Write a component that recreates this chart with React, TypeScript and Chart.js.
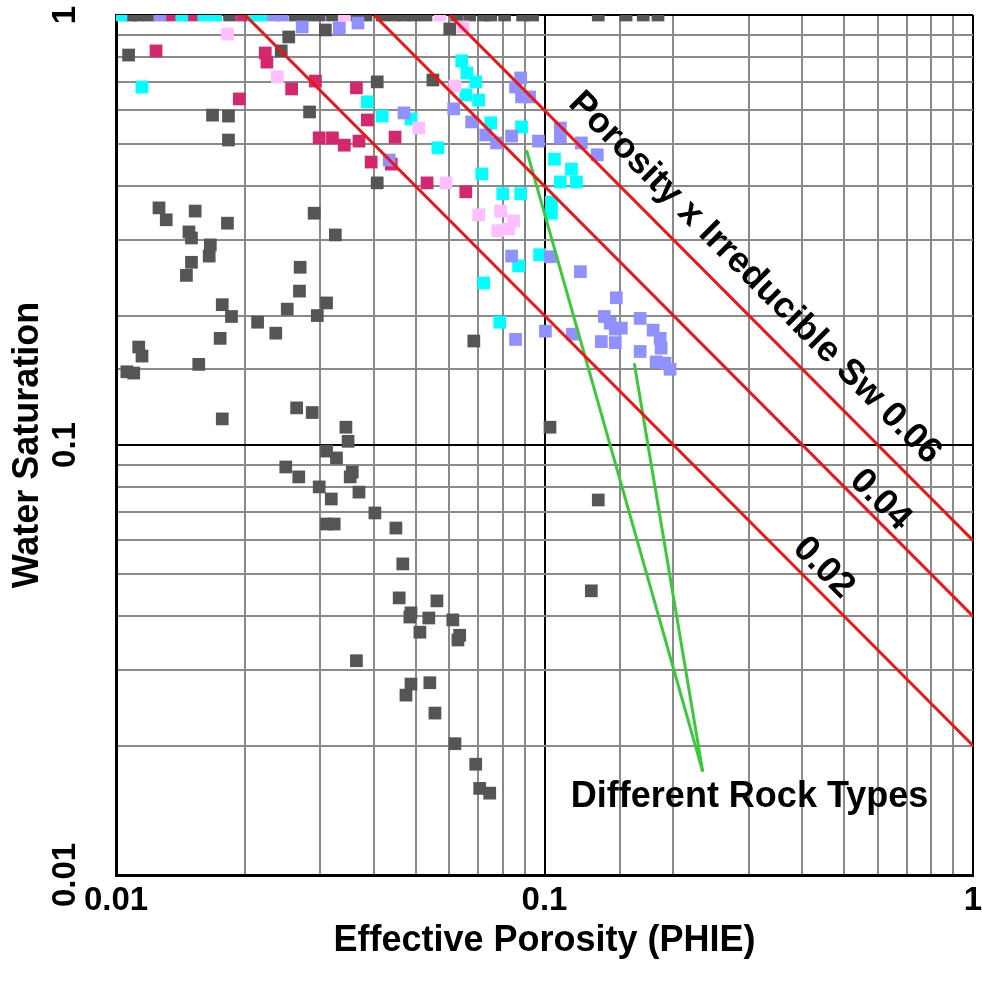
import React, { useEffect, useRef } from "react";
import { Chart, registerables } from "chart.js";

Chart.register(...registerables);

// ---- Data ----
const grayX = [
  0.0107, 0.0168, 0.0183, 0.0183, 0.0253, 0.0243, 0.0308, 0.0283, 0.0126, 0.0131,
  0.0153, 0.0148, 0.0150, 0.0182, 0.0290, 0.0325, 0.0166, 0.0165, 0.0150, 0.0146,
  0.0269, 0.0268, 0.0177, 0.0186, 0.0251, 0.0310, 0.0295, 0.0214, 0.0236, 0.0175,
  0.0113, 0.0115, 0.0156, 0.0106, 0.0110, 0.0264, 0.0287, 0.0177, 0.0344, 0.0348,
  0.0310, 0.0327, 0.0249, 0.0267, 0.0356, 0.0352, 0.0298, 0.0318, 0.0369, 0.0402,
  0.0310, 0.0323, 0.0450, 0.0467, 0.0458, 0.0561, 0.0488, 0.0485, 0.0537, 0.0611,
  0.0512, 0.0634, 0.0628, 0.0364, 0.0488, 0.0475, 0.0540, 0.0555, 0.0618, 0.0691,
  0.0706, 0.0745, 0.103, 0.1335, 0.1286, 0.0407, 0.0549, 0.0407, 0.0684, 0.0601,
  0.01084, 0.01125, 0.01193, 0.01841, 0.02622, 0.02796, 0.0298, 0.0320, 0.0365, 0.0383,
  0.0418, 0.0446, 0.0470, 0.0496, 0.0529, 0.0624, 0.0669, 0.0721, 0.0749, 0.0807,
  0.0889, 0.0938, 0.1335, 0.155, 0.170, 0.184,
];
const grayY = [
  0.807, 0.585, 0.582, 0.512, 0.889, 0.825, 0.923, 0.595, 0.356, 0.334,
  0.350, 0.313, 0.303, 0.328, 0.346, 0.308, 0.292, 0.275, 0.266, 0.248,
  0.259, 0.228, 0.212, 0.199, 0.207, 0.214, 0.200, 0.193, 0.182, 0.177,
  0.169, 0.161, 0.154, 0.148, 0.147, 0.122, 0.119, 0.115, 0.110, 0.102,
  0.0968, 0.0933, 0.0889, 0.0843, 0.0865, 0.0843, 0.0799, 0.0749, 0.0777, 0.0695,
  0.0655, 0.0655, 0.0641, 0.0529, 0.0441, 0.0434, 0.0407, 0.0398, 0.0396, 0.0392,
  0.0367, 0.0361, 0.0352, 0.0315, 0.0278, 0.0262, 0.0280, 0.0238, 0.0202, 0.0181,
  0.0159, 0.0155, 0.110, 0.0745, 0.0458, 0.699, 0.706, 0.407, 0.1745, 0.928,
  1, 1, 1, 1, 1, 1, 1, 1, 1, 1,
  1, 1, 1, 1, 1, 1, 1, 1, 1, 1,
  1, 1, 1, 1, 1, 1,
];

const magentaX = [
  0.0124, 0.0223, 0.0225, 0.0194, 0.0257, 0.0292, 0.0298, 0.0320, 0.0341, 0.0369,
  0.0364, 0.0386, 0.0448, 0.0394, 0.0439, 0.0532, 0.0655, 0.01342, 0.01502, 0.01974,
];
const magentaY = [
  0.825, 0.816, 0.777, 0.638, 0.673, 0.702, 0.518, 0.518, 0.498, 0.509,
  0.677, 0.570, 0.520, 0.455, 0.450, 0.407, 0.388, 1, 1, 1,
];

const cyanX = [
  0.0115, 0.0641, 0.0659, 0.0691, 0.0655, 0.0702, 0.0386, 0.0418, 0.0488, 0.0749,
  0.0884, 0.0564, 0.0714, 0.0799, 0.0880, 0.0870, 0.0974, 0.0721, 0.0786, 0.1055,
  0.1156, 0.1089, 0.1187, 0.1038, 0.1038, 0.01027, 0.01424, 0.01602, 0.01708, 0.02094,
  0.02185,
];
const cyanY = [
  0.680, 0.782, 0.733, 0.699, 0.652, 0.634, 0.628, 0.582, 0.573, 0.561,
  0.549, 0.491, 0.427, 0.384, 0.384, 0.261, 0.277, 0.238, 0.193, 0.462,
  0.438, 0.409, 0.409, 0.367, 0.346, 1, 1, 1, 1, 1,
  1,
];

const purpleX = [
  0.0272, 0.0332, 0.0367, 0.0470, 0.0614, 0.0676, 0.0729, 0.0773, 0.0838, 0.0968,
  0.0880, 0.0856, 0.0884, 0.0923, 0.0434, 0.1089, 0.1089, 0.1219, 0.1328, 0.0838,
  0.1032, 0.1213, 0.1471, 0.0856, 0.1005, 0.1162, 0.1357, 0.1379, 0.1424, 0.1463,
  0.1511, 0.1463, 0.1672, 0.1672, 0.1793, 0.1862, 0.1871, 0.1822, 0.1911, 0.1963,
  0.01266, 0.02331, 0.02445,
];
const purpleY = [
  0.938, 0.933, 0.958, 0.592, 0.605, 0.564, 0.526, 0.504, 0.523, 0.509,
  0.714, 0.680, 0.645, 0.645, 0.460, 0.546, 0.520, 0.504, 0.473, 0.275,
  0.274, 0.253, 0.220, 0.176, 0.184, 0.181, 0.174, 0.199, 0.192, 0.186,
  0.187, 0.173, 0.197, 0.165, 0.185, 0.177, 0.168, 0.156, 0.155, 0.150,
  1, 1, 1,
];

const pinkX = [0.0182, 0.0238, 0.0509, 0.0589, 0.0618, 0.0645, 0.0702, 0.0790, 0.0847, 0.0778, 0.0825, 0.0341, 0.0570];
const pinkY = [0.903, 0.718, 0.546, 0.407, 0.684, 0.938, 0.343, 0.350, 0.332, 0.315, 0.318, 1, 1];

// Iso-lines Porosity x Irreducible Sw = 0.02, 0.04, 0.06 (end points)
const iso002X = [0.02, 1];
const iso002Y = [1, 0.02];
const iso004X = [0.04, 1];
const iso004Y = [1, 0.04];
const iso006X = [0.06, 1];
const iso006Y = [1, 0.06];

// Green "rock type" pointers
const rockAX = [0.0908, 0.234];
const rockAY = [0.485, 0.0174];
const rockBX = [0.162, 0.234];
const rockBY = [0.155, 0.0174];

const xTickLabels = ["0.01", "0.1", "1"];
const yTickLabels = ["0.01", "0.1", "1"];

const FONT = "'Liberation Sans', Arial, Helvetica, sans-serif";

const zip = (xs: number[], ys: number[]) => xs.map((x, i) => ({ x, y: ys[i] }));

const isDecade = (v: number) => Math.abs(Math.log10(v) - Math.round(Math.log10(v))) < 1e-6;

const decadeLabel = (v: number, labels: string[]) => {
  if (!isDecade(v)) return "";
  const e = Math.round(Math.log10(v));
  return labels[e + 2] ?? "";
};

const annotationsPlugin = {
  id: "porosityAnnotations",
  afterDatasetsDraw(chart: any) {
    const { ctx, scales } = chart;
    const xs = scales.x;
    const ys = scales.y;
    const items = [
      { text: "Porosity x Irreducible Sw 0.06", x: 0.3095, y: 0.2445, angle: 45 },
      { text: "0.04", x: 0.6076, y: 0.0745, angle: 45 },
      { text: "0.02", x: 0.448, y: 0.0518, angle: 45 },
      { text: "Different Rock Types", x: 0.301, y: 0.0152, angle: 0 },
    ];
    ctx.save();
    for (const it of items) {
      const px = xs.getPixelForValue(it.x);
      const py = ys.getPixelForValue(it.y);
      ctx.save();
      ctx.translate(px, py);
      ctx.rotate((it.angle * Math.PI) / 180);
      ctx.font = `bold 36px ${FONT}`;
      ctx.fillStyle = "#000";
      ctx.textAlign = "center";
      ctx.textBaseline = "middle";
      ctx.fillText(it.text, 0, 0);
      ctx.restore();
    }
    ctx.restore();
  },
};

export default function App() {
  const ref = useRef<HTMLCanvasElement | null>(null);

  useEffect(() => {
    if (!ref.current) return;
    const pointDs = (label: string, xs: number[], ys: number[], color: string, order: number) => ({
      type: "scatter" as const,
      label,
      data: zip(xs, ys),
      backgroundColor: color,
      borderColor: color,
      borderWidth: 0,
      pointStyle: "rect",
      pointRadius: 9,
      pointHoverRadius: 9,
      showLine: false,
      clip: 0,
      order,
    });
    const lineDs = (label: string, xs: number[], ys: number[], color: string) => ({
      type: "line" as const,
      label,
      data: zip(xs, ys),
      borderColor: color,
      backgroundColor: color,
      borderWidth: 3,
      pointRadius: 0,
      pointHoverRadius: 0,
      fill: false,
      tension: 0,
      clip: 0,
      order: 0,
    });

    const chart = new Chart(ref.current, {
      type: "scatter",
      data: {
        datasets: [
          lineDs("0.02", iso002X, iso002Y, "#f01414"),
          lineDs("0.04", iso004X, iso004Y, "#f01414"),
          lineDs("0.06", iso006X, iso006Y, "#f01414"),
          lineDs("Rock A", rockAX, rockAY, "#3cc83c"),
          lineDs("Rock B", rockBX, rockBY, "#3cc83c"),
          pointDs("Gray", grayX, grayY, "#555555", 5),
          pointDs("Magenta", magentaX, magentaY, "#d4286e", 4),
          pointDs("Cyan", cyanX, cyanY, "#00ffff", 3),
          pointDs("Purple", purpleX, purpleY, "#9090ff", 2),
          pointDs("Pink", pinkX, pinkY, "#ffbfff", 1),
        ] as any,
      },
      options: {
        responsive: false,
        devicePixelRatio: 1,
        animation: false,
        events: [],
        layout: { padding: { top: 15, right: 5, left: 0, bottom: 0 } },
        plugins: {
          legend: { display: false },
          tooltip: { enabled: false },
        },
        scales: {
          x: {
            type: "logarithmic",
            position: "bottom",
            min: 0.01,
            max: 1,
            border: { display: true, color: "#000", width: 3 },
            grid: {
              color: (c: any) => (c.tick && isDecade(c.tick.value) ? "#000" : "#8a8a8a"),
              lineWidth: 2,
              drawTicks: false,
            },
            ticks: {
              autoSkip: false,
              maxRotation: 0,
              minRotation: 0,
              padding: 6,
              color: "#000",
              font: { family: FONT, size: 33, weight: "bold" },
              callback: (v: any) => decadeLabel(Number(v), xTickLabels),
            },
            title: {
              display: true,
              text: "Effective Porosity (PHIE)",
              color: "#000",
              font: { family: FONT, size: 36, weight: "bold" },
              padding: { top: 0, bottom: 29 },
            },
            afterFit: (s: any) => {
              s.height = 117;
              s.paddingLeft = 0;
              s.paddingRight = 0;
            },
          },
          y: {
            type: "logarithmic",
            position: "left",
            min: 0.01,
            max: 1,
            border: { display: true, color: "#000", width: 3 },
            grid: {
              color: (c: any) => (c.tick && isDecade(c.tick.value) ? "#000" : "#8a8a8a"),
              lineWidth: 2,
              drawTicks: false,
            },
            ticks: {
              autoSkip: false,
              minRotation: 90,
              maxRotation: 90,
              crossAlign: "center",
              padding: 18,
              color: "#000",
              font: { family: FONT, size: 33, weight: "bold" },
              callback: (v: any) => decadeLabel(Number(v), yTickLabels),
            },
            title: {
              display: true,
              text: "Water Saturation",
              color: "#000",
              font: { family: FONT, size: 36, weight: "bold" },
              padding: { top: 6, bottom: 0 },
            },
            afterFit: (s: any) => {
              s.width = 116;
              s.paddingTop = 0;
              s.paddingBottom = 0;
            },
          },
        },
      } as any,
      plugins: [annotationsPlugin],
    });
    return () => chart.destroy();
  }, []);

  return (
    <div style={{ position: "fixed", left: 0, top: 0, width: 982, height: 992, background: "#fff" }}>
      <canvas ref={ref} width={982} height={992} style={{ display: "block" }} />
    </div>
  );
}
